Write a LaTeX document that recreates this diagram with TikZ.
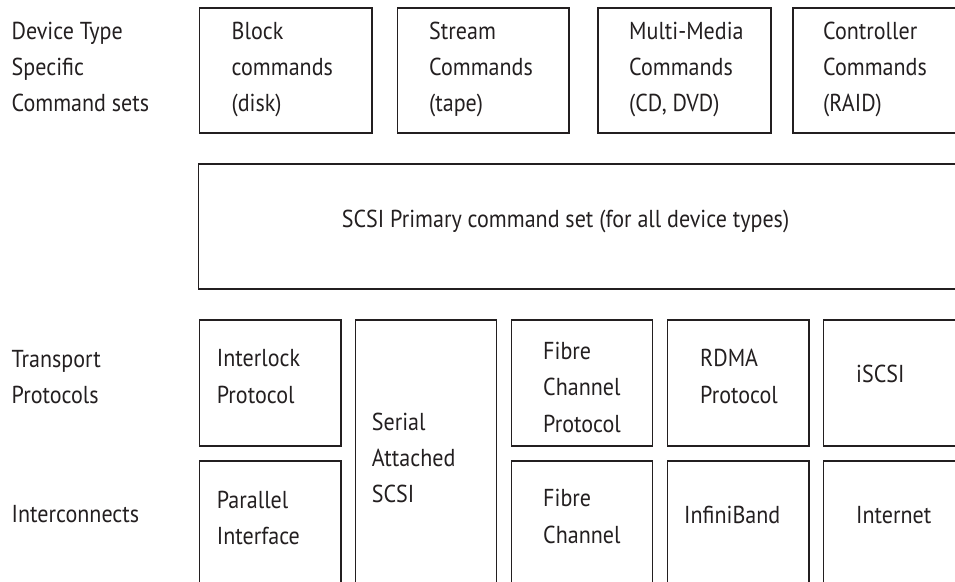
\documentclass[tikz,border=0pt]{standalone}
\usepackage{fontspec}
\setmainfont[FakeStretch=0.9]{PT Sans}
\usetikzlibrary{positioning}
\definecolor{ink}{HTML}{231F20}
\newcommand\celltext[1]{\begin{tabular}[t]{@{}l@{}}#1\end{tabular}}
\begin{document}
\begin{tikzpicture}[x=1pt,y=-1pt,
  box/.style={draw=ink,line width=1.5pt,inner sep=0pt,outer sep=0pt,anchor=north west},
  txt/.style={text=ink,inner sep=0pt,anchor=base west,
    font=\fontsize{24.5}{36.3}\selectfont}]
\useasboundingbox (0,0) rectangle (955,581);
\clip (0,0) rectangle (955,581);

% left-hand layer labels
\node[txt] (lDev) at (11.5,39.3) {\celltext{Device Type\\Specific\\Command sets}};
\node[txt] (lTra) at (11.5,367.3) {\celltext{Transport\\Protocols}};
\node[txt] (lInt) at (11.5,522.7) {Interconnects};

% device type specific command sets
\node[box,minimum width=172.5pt,minimum height=125pt] (blk) at (199.5,8) {};
\node[box,minimum width=171.5pt,minimum height=125pt] (str) at (397.5,8) {};
\node[box,minimum width=173pt,minimum height=125pt] (mmc) at (598,8) {};
\node[box,minimum width=250pt,minimum height=125pt] (ctl) at (793,8) {};
\node[txt] (tBlk) at (231.5,39.3) {\celltext{Block\\commands\\(disk)}};
\node[txt] (tStr) at (429,39.3) {\celltext{Stream\\Commands\\(tape)}};
\node[txt] (tMmc) at (629,39.3) {\celltext{Multi-Media\\Commands\\(CD, DVD)}};
\node[txt] (tCtl) at (823,39.3) {\celltext{Controller\\Commands\\(RAID)}};

% primary command set
\node[box,minimum width=850pt,minimum height=125pt] (spc) at (198.5,164) {};
\node[txt] (tSpc) at (341.7,227.3) {SCSI Primary command set (for all device types)};

% transport protocols and interconnects
\node[box,minimum width=141.5pt,minimum height=126pt] (ilp) at (199.5,320) {};
\node[box,minimum width=141.5pt,minimum height=200pt] (spi) at (199.5,461) {};
\node[box,minimum width=141pt,minimum height=300pt] (sas) at (355.7,320) {};
\node[box,minimum width=141pt,minimum height=126pt] (fcp) at (511.7,320) {};
\node[box,minimum width=141pt,minimum height=200pt] (fch) at (511.7,461) {};
\node[box,minimum width=141.3pt,minimum height=126pt] (rdm) at (667.7,320) {};
\node[box,minimum width=141.3pt,minimum height=200pt] (ibd) at (667.7,461) {};
\node[box,minimum width=250pt,minimum height=126pt] (isc) at (823.3,320) {};
\node[box,minimum width=250pt,minimum height=200pt] (inet) at (823.3,461) {};

\node[txt] (tIlp) at (216.7,366.7) {\celltext{Interlock\\Protocol}};
\node[txt] (tSpi) at (216.7,508) {\celltext{Parallel\\Interface}};
\node[txt] (tSas) at (371.7,430) {\celltext{Serial\\Attached\\SCSI}};
\node[txt] (tFcp) at (543,359.5) {\celltext{Fibre\\Channel\\Protocol}};
\node[txt] (tFch) at (543,506.7) {\celltext{Fibre\\Channel}};
\node[txt] (tRdm) at (700,366.7) {\celltext{RDMA\\Protocol}};
\node[txt] (tIbd) at (684,523.3) {InfiniBand};
\node[txt] (tIsc) at (856,382.7) {iSCSI};
\node[txt] (tInet) at (856,523.3) {Internet};
\end{tikzpicture}
\end{document}
